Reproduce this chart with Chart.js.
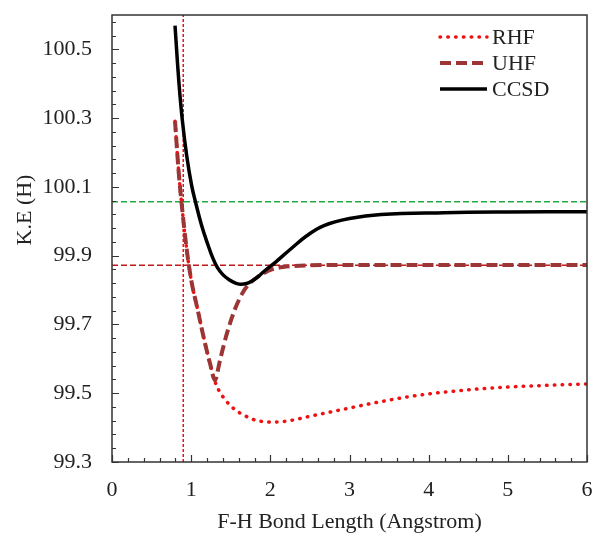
<!DOCTYPE html>
<html><head><meta charset="utf-8">
<script src="https://cdn.jsdelivr.net/npm/chart.js@4.4.1/dist/chart.umd.min.js"></script>
<style>html,body{margin:0;padding:0;background:#fff}#wrap{width:594px;height:533px;position:relative}</style>
</head><body><div id="wrap"><canvas id="c" width="594" height="533"></canvas></div>
<script>
// ---- data ----
const seriesLabels = ['RHF', 'UHF', 'CCSD'];
const rhfX = [0.796, 0.84, 0.88, 0.94, 1.0, 1.08, 1.16, 1.24, 1.30, 1.35, 1.40, 1.47, 1.55, 1.62, 1.72, 1.81, 2.0, 2.21, 2.5, 2.75, 3.0, 3.25, 3.5, 3.75, 4.0, 4.5, 5.0, 5.5, 6.0];
const rhfY = [100.291, 100.15, 100.05, 99.925, 99.83, 99.745, 99.66, 99.585, 99.535, 99.508, 99.49, 99.47, 99.453, 99.442, 99.43, 99.422, 99.416, 99.419, 99.433, 99.445, 99.457, 99.469, 99.48, 99.49, 99.498, 99.51, 99.518, 99.523, 99.527];
const uhfX = [0.796, 0.84, 0.88, 0.94, 1.0, 1.08, 1.16, 1.24, 1.30, 1.364, 1.449, 1.554, 1.658, 1.75, 1.85, 2.02, 2.16, 2.5, 3.0, 4.0, 5.0, 6.0];
const uhfY = [100.291, 100.15, 100.05, 99.925, 99.83, 99.745, 99.66, 99.585, 99.538, 99.596, 99.672, 99.745, 99.795, 99.822, 99.84, 99.86, 99.867, 99.872, 99.873, 99.873, 99.873, 99.873];
const ccsdX = [0.796, 0.846, 0.888, 0.944, 1.007, 1.057, 1.133, 1.216, 1.27, 1.33, 1.40, 1.48, 1.56, 1.62, 1.70, 1.765, 1.85, 1.933, 2.06, 2.25, 2.46, 2.67, 3.0, 3.4, 4.2, 5.0, 6.0];
const ccsdY = [100.569, 100.402, 100.295, 100.19, 100.103, 100.054, 99.987, 99.929, 99.895, 99.866, 99.845, 99.83, 99.82, 99.817, 99.819, 99.826, 99.84, 99.857, 99.88, 99.918, 99.958, 99.987, 100.008, 100.02, 100.025, 100.027, 100.028];
const refGreenY = 100.057;
const refRedY = 99.872;
const refVerticalX = 0.9;
const xTicks = [0, 1, 2, 3, 4, 5, 6];
const yTicks = [99.3, 99.5, 99.7, 99.9, 100.1, 100.3, 100.5];
const xTitle = 'F-H Bond Length (Angstrom)';
const yTitle = 'K.E (H)';

const FONT = "'Liberation Serif', 'Times New Roman', serif";
const TEXT = '#222';
const AXIS = '#333';
const X_MIN = 0, X_MAX = 6, Y_MIN = 99.3, Y_MAX = 100.6;

const pts = (xs, ys) => xs.map((x, i) => ({x, y: ys[i]}));

const datasets = [
  {label: seriesLabels[0], data: pts(rhfX, rhfY), borderColor: '#EE1111', borderWidth: 3.5,
   borderDash: [0.5, 7.3], borderCapStyle: 'round', cubicInterpolationMode: 'monotone', order: 3},
  {label: seriesLabels[1], data: pts(uhfX, uhfY), borderColor: '#9C3535', borderWidth: 4,
   borderDash: [11, 5], borderCapStyle: 'butt', cubicInterpolationMode: 'monotone', order: 2},
  {label: seriesLabels[2], data: pts(ccsdX, ccsdY), borderColor: '#000000', borderWidth: 3.5,
   tension: 0.4, order: 1},
  {label: 'ref-green', data: [{x: X_MIN, y: refGreenY}, {x: X_MAX, y: refGreenY}], borderColor: '#22AA44',
   borderWidth: 1.5, borderDash: [6, 3], order: 5},
  {label: 'ref-red', data: [{x: X_MIN, y: refRedY}, {x: X_MAX, y: refRedY}], borderColor: '#C01818',
   borderWidth: 1.5, borderDash: [6, 3], order: 5},
  {label: 'ref-vertical', data: [{x: refVerticalX, y: Y_MIN}, {x: refVerticalX, y: Y_MAX}], borderColor: '#EE1111',
   borderWidth: 1.5, borderDash: [3, 2], order: 5}
];
datasets.forEach(d => { d.showLine = true; d.pointRadius = 0; d.pointHoverRadius = 0; d.fill = false; });

const frameAndTicks = {
  id: 'frameAndTicks',
  afterDraw(chart) {
    const {ctx, chartArea: a, scales: {x, y}} = chart;
    ctx.save();
    ctx.strokeStyle = AXIS;
    ctx.lineWidth = 1.5;
    ctx.strokeRect(a.left, a.top, a.right - a.left, a.bottom - a.top);
    ctx.lineWidth = 1.2;
    ctx.beginPath();
    for (let i = 0; i <= 30; i++) {
      const v = X_MIN + i * 0.2;
      const px = Math.round(x.getPixelForValue(v)) + 0.5;
      const len = (i % 5 === 0) ? 7 : 4;
      ctx.moveTo(px, a.bottom); ctx.lineTo(px, a.bottom - len);
    }
    for (let i = 0; i <= 32; i++) {
      const v = Y_MIN + i * 0.04;
      if (v > Y_MAX + 1e-9) break;
      const py = Math.round(y.getPixelForValue(v)) + 0.5;
      const len = (i % 5 === 0) ? 7 : 4;
      ctx.moveTo(a.left, py); ctx.lineTo(a.left + len, py);
    }
    ctx.stroke();
    // y-axis title
    ctx.fillStyle = TEXT;
    ctx.font = '22px ' + FONT;
    ctx.textAlign = 'center';
    ctx.textBaseline = 'middle';
    ctx.translate(25, 210);
    ctx.rotate(-Math.PI / 2);
    ctx.fillText(yTitle, 0, 0);
    ctx.restore();
    // legend
    ctx.save();
    const rows = [37, 63, 89];
    chart.data.datasets.slice(0, 3).forEach((d, i) => {
      const yy = rows[i];
      ctx.strokeStyle = d.borderColor;
      ctx.lineWidth = d.borderWidth;
      ctx.lineCap = d.borderCapStyle || 'butt';
      ctx.setLineDash(d.borderDash || []);
      ctx.beginPath();
      ctx.moveTo(440, yy); ctx.lineTo(487, yy);
      ctx.stroke();
      ctx.setLineDash([]);
      ctx.fillStyle = TEXT;
      ctx.font = '22px ' + FONT;
      ctx.textAlign = 'left';
      ctx.textBaseline = 'middle';
      ctx.fillText(d.label, 492, yy + 1);
    });
    ctx.restore();
  }
};

new Chart(document.getElementById('c'), {
  type: 'scatter',
  data: {datasets},
  options: {
    responsive: false,
    animation: false,
    devicePixelRatio: 1,
    layout: {padding: {top: 15, right: 7, left: 0, bottom: 0}},
    plugins: {legend: {display: false}, tooltip: {enabled: false}},
    scales: {
      x: {
        type: 'linear', min: X_MIN, max: X_MAX,
        ticks: {color: TEXT, font: {family: FONT, size: 22}, padding: 15,
                callback: v => String(v)},
        afterBuildTicks: s => { s.ticks = xTicks.map(v => ({value: v})); },
        grid: {display: false, drawTicks: false},
        border: {display: false},
        title: {display: true, text: xTitle, color: TEXT, font: {family: FONT, size: 22}, padding: {top: 0, bottom: -2}},
        afterFit: s => { s.height = 71; s.paddingLeft = 0; s.paddingRight = 0; }
      },
      y: {
        type: 'linear', min: Y_MIN, max: Y_MAX,
        ticks: {color: TEXT, font: {family: FONT, size: 22}, padding: 20,
                callback: v => Number(v).toFixed(1)},
        afterBuildTicks: s => { s.ticks = yTicks.map(v => ({value: v})); },
        grid: {display: false, drawTicks: false},
        border: {display: false},
        afterFit: s => { s.width = 112; s.paddingTop = 0; s.paddingBottom = 0; }
      }
    }
  },
  plugins: [frameAndTicks]
});
</script>
</body></html>
